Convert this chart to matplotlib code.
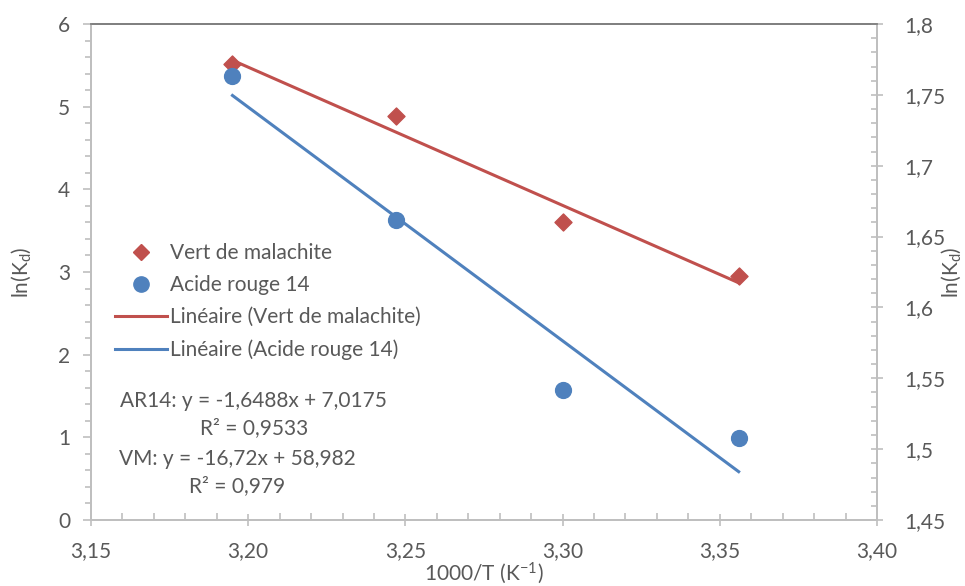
import matplotlib

matplotlib.use("Agg")

import matplotlib.pyplot as plt  # noqa: E402
from matplotlib.lines import Line2D  # noqa: E402
from matplotlib.ticker import FuncFormatter, MultipleLocator  # noqa: E402

# Données (x = 1000/T).
x_inv_t = [3.195, 3.247, 3.300, 3.356]
ln_kd_vm = [5.516, 4.887, 3.605, 2.951]      # Vert de malachite, axe gauche
ln_kd_ar14 = [1.763, 1.662, 1.542, 1.508]    # Acide rouge 14, axe droit

# Droites de tendance (équations affichées sur le graphique).
vm_fit = (-16.72, 58.982)
ar14_fit = (-1.6488, 7.0175)

RED = "#c0504d"
BLUE = "#4f81bd"
TEXT = "#595959"
AXIS = "#bfbfbf"

plt.rcParams["font.family"] = ["Lato", "DejaVu Sans"]
plt.rcParams["font.size"] = 15
plt.rcParams["mathtext.fontset"] = "custom"
plt.rcParams["mathtext.rm"] = "Lato"
plt.rcParams["mathtext.it"] = "Lato"


def comma(fmt):
    return FuncFormatter(lambda v, _: format(v, fmt).replace(".", ","))


fig = plt.figure(figsize=(9.65, 5.86), dpi=100)
ax = fig.add_axes([0.0943, 0.1126, 0.8145, 0.8464])
ax2 = ax.twinx()

x_ends = [min(x_inv_t), max(x_inv_t)]
ax.scatter(x_inv_t, ln_kd_vm, marker="D", s=75, color=RED, zorder=3)
ax.plot(x_ends, [vm_fit[0] * x + vm_fit[1] for x in x_ends], color=RED, linewidth=2.2)
ax2.scatter(x_inv_t, ln_kd_ar14, marker="o", s=130, color=BLUE, zorder=3)
ax2.plot(x_ends, [ar14_fit[0] * x + ar14_fit[1] for x in x_ends], color=BLUE, linewidth=2.2)

ax.set_xlim(3.15, 3.40)
ax.set_ylim(0, 6)
ax2.set_ylim(1.45, 1.80)

ax.xaxis.set_major_locator(MultipleLocator(0.05))
ax.xaxis.set_minor_locator(MultipleLocator(0.01))
ax.yaxis.set_major_locator(MultipleLocator(1))
ax.yaxis.set_minor_locator(MultipleLocator(0.2))
ax2.yaxis.set_major_locator(MultipleLocator(0.05))
ax2.yaxis.set_minor_locator(MultipleLocator(0.01))
ax.xaxis.set_major_formatter(comma(".2f"))
ax2.yaxis.set_major_formatter(FuncFormatter(lambda v, _: f"{v:.2f}".rstrip("0").replace(".", ",")))

for a in (ax, ax2):
    for side in ("left", "right", "bottom"):
        a.spines[side].set_color(AXIS)
        a.spines[side].set_linewidth(1.3)
    a.spines["top"].set_color("#808080")
    a.spines["top"].set_linewidth(1.3)

ax.tick_params(axis="x", which="major", direction="inout", length=9, width=1.2,
               color=AXIS, labelcolor=TEXT, pad=11)
ax.tick_params(axis="x", which="minor", direction="in", length=5, width=1.2, color=AXIS)
ax.tick_params(axis="y", which="major", direction="out", length=6, width=1.2,
               color=AXIS, labelcolor=TEXT, pad=9)
ax.tick_params(axis="y", which="minor", direction="out", length=4, width=1.2, color=AXIS)
ax2.tick_params(axis="y", which="major", direction="inout", length=9, width=1.2,
                color=AXIS, labelcolor=TEXT, pad=15)
ax2.tick_params(axis="y", which="minor", direction="in", length=4, width=1.2, color=AXIS)

ax.set_xlabel(r"$\mathregular{1000/T\ (K^{-1})}$", color=TEXT)
ax.xaxis.set_label_coords(0.5, -0.082)
ax.set_ylabel(r"$\mathregular{ln(K_{d})}$", color=TEXT)
ax.yaxis.set_label_coords(-0.074, 0.5)
ax2.set_ylabel(r"$\mathregular{ln(K_{d})}$", color=TEXT, rotation=90)
ax2.yaxis.set_label_coords(1.079, 0.5)

handles = [
    Line2D([], [], marker="D", linestyle="none", color=RED, markersize=8.5),
    Line2D([], [], marker="o", linestyle="none", color=BLUE, markersize=11),
    Line2D([], [], color=RED, linewidth=2.2),
    Line2D([], [], color=BLUE, linewidth=2.2),
]
labels = ["Vert de malachite", "Acide rouge 14",
          "Linéaire (Vert de malachite)", "Linéaire (Acide rouge 14)"]
leg = ax2.legend(handles, labels, loc="upper left", bbox_to_anchor=(0.02, 0.575),
                 frameon=False, handlelength=2.5, handletextpad=0.15,
                 labelspacing=0.58, borderaxespad=0)
for t in leg.get_texts():
    t.set_color(TEXT)

ax2.text(0.207, 0.2127, "AR14: y = -1,6488x + 7,0175\nR² = 0,9533", transform=ax.transAxes,
         ha="center", va="center", color=TEXT, linespacing=1.4)
ax2.text(0.186, 0.0958, "VM: y = -16,72x + 58,982\nR² = 0,979", transform=ax.transAxes,
         ha="center", va="center", color=TEXT, linespacing=1.4)

fig.savefig("out.png", dpi=100)
